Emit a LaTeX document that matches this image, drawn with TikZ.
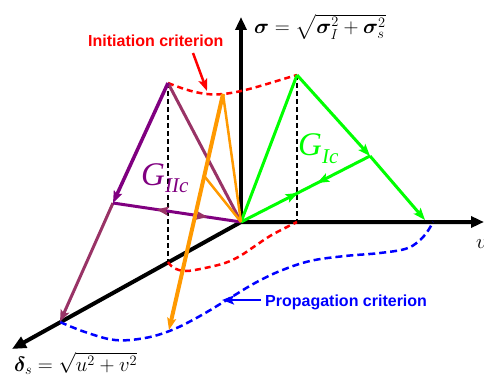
\documentclass[tikz,border=0pt]{standalone}
\usepackage{amsmath,bm}
\usepackage{fontspec}
\newfontfamily\sansf{Liberation Sans}
\newfontfamily\serf{Liberation Serif}
\usetikzlibrary{arrows.meta,decorations.markings}
\definecolor{purp}{HTML}{800080}
\definecolor{mauve}{HTML}{993366}
\definecolor{gcol}{HTML}{00FF00}
\definecolor{ocol}{HTML}{FF9900}
\begin{document}
\begin{tikzpicture}[x=1pt,y=-1pt,
  axisline/.style={line width=4pt,line join=miter},
  bigtip/.style={-{Triangle[length=13pt,width=11pt]}},
  ctip/.style={-{Stealth[length=12pt,width=9pt,inset=2.5pt]}},
  vdash/.style={line width=2.5pt,dash pattern=on 5pt off 3pt},
  cdash/.style={line width=2.5pt,dash pattern=on 6pt off 4pt},
  lbl/.style={font=\sansf\bfseries\fontsize{16}{16}\selectfont},
  mathlbl/.style={font=\fontsize{22.5}{26}\selectfont},
  glbl/.style={font=\serf\itshape\fontsize{33}{33}\selectfont,anchor=base west,inner sep=0pt}]
\useasboundingbox (0,0) rectangle (484,385);
% key points
\coordinate (O) at (241,222);
\coordinate (Ytop) at (241,17);
\coordinate (Xend) at (484,222);
\coordinate (Dend) at (12,349);
\coordinate (PA) at (168,83);
\coordinate (PM) at (113,203);
\coordinate (PE) at (60,322);
\coordinate (PF) at (168,262);
\coordinate (GA) at (297,75);
\coordinate (GM) at (370,156);
\coordinate (GE) at (425,220);
\coordinate (GF) at (297,222);
\coordinate (OA) at (223,94);
\coordinate (OM) at (205,177);
\coordinate (OE) at (169,330);
% dashed projections
\draw[vdash] (PA) -- (PF);
\draw[vdash] (GA) -- (GF);
% axes
\draw[axisline,bigtip] (O) -- (Ytop);
\draw[axisline,{Triangle[length=14pt,width=12pt]}-{Triangle[length=13pt,width=11pt]}] (Dend) -- (O) -- (Xend);
% criteria curves
\draw[red,cdash] (PA) .. controls (188,91) and (205,96) .. (OA) .. controls (245,92) and (272,82) .. (GA);
\draw[red,cdash] plot[smooth,tension=0.6] coordinates {(PF) (174,268) (186,271) (205,268) (225,263) (240,256) (255,246) (270,236) (285,228) (GF)};
\draw[blue,line width=2.5pt,dash pattern=on 7pt off 4pt] plot[smooth,tension=0.6] coordinates {(PE) (85,332) (115,340) (145,338) (172,330) (200,316) (230,298) (255,283) (280,271) (310,261) (345,256) (380,253) (408,248) (424,236) (433,222)};
% purple / mauve
\draw[mauve,line width=3pt] (PA) -- (O);
\draw[purp,line width=3.5pt,ctip] (PA) -- (PM);
\draw[mauve,line width=3pt,ctip] (PM) -- (PE);
\draw[purp,line width=3pt,postaction={decorate},decoration={markings,
  mark=at position 0.34 with {\arrowreversed[mauve]{Stealth[length=12pt,width=9pt,inset=2.5pt]}},
  mark=at position 0.74 with {\arrow[mauve]{Stealth[length=12pt,width=9pt,inset=2.5pt]}}}] (PM) -- (O);
% green
\draw[gcol,line width=3pt] (O) -- (GA);
\draw[gcol,line width=3pt,ctip] (GA) -- (GM);
\draw[gcol,line width=3pt,ctip] (GM) -- (GE);
\draw[gcol,line width=3pt,postaction={decorate},decoration={markings,
  mark=at position 0.41 with {\arrow[gcol]{Stealth[length=12pt,width=9pt,inset=2.5pt]}},
  mark=at position 0.56 with {\arrowreversed[gcol]{Stealth[length=12pt,width=9pt,inset=2.5pt]}}}] (GM) -- (O);
% orange
\draw[ocol,line width=2.5pt] (OA) -- (O);
\draw[ocol,line width=2.5pt] (OM) -- (O);
\draw[ocol,line width=4pt,ctip] (OA) -- (OE);
% labels
\node[lbl,text=red,anchor=base west,inner sep=0pt] (init) at (88,47) {Initiation criterion};
\coordinate (ia1) at (193,53);
\coordinate (ia2) at (207,91);
\draw[red,line width=2.5pt,ctip] (ia1) -- (ia2);
\node[lbl,text=blue,anchor=base west,inner sep=0pt] (prop) at (265,306) {Propagation criterion};
\coordinate (pa1) at (261,300);
\coordinate (pa2) at (222,300);
\draw[blue,line width=2.5pt,ctip] (pa1) -- (pa2);
\node[mathlbl,anchor=west,inner sep=0pt] (sig) at (254,27) {$\bm{\sigma}=\sqrt{\bm{\sigma}_{I}^{2}+\bm{\sigma}_{s}^{2}}$};
\node[mathlbl,anchor=west,inner sep=0pt] (del) at (14,363) {$\bm{\delta}_{s}=\sqrt{u^{2}+v^{2}}$};
\node[mathlbl,anchor=west,inner sep=0pt] (vl) at (476,244) {$v$};
\node[glbl,text=purp] (gii) at (141,185) {G\raisebox{-7pt}{\fontsize{21}{21}\selectfont IIc}};
\node[glbl,text=gcol] (gi) at (298,155) {G\raisebox{-8pt}{\fontsize{21}{21}\selectfont Ic}};
\end{tikzpicture}
\end{document}
